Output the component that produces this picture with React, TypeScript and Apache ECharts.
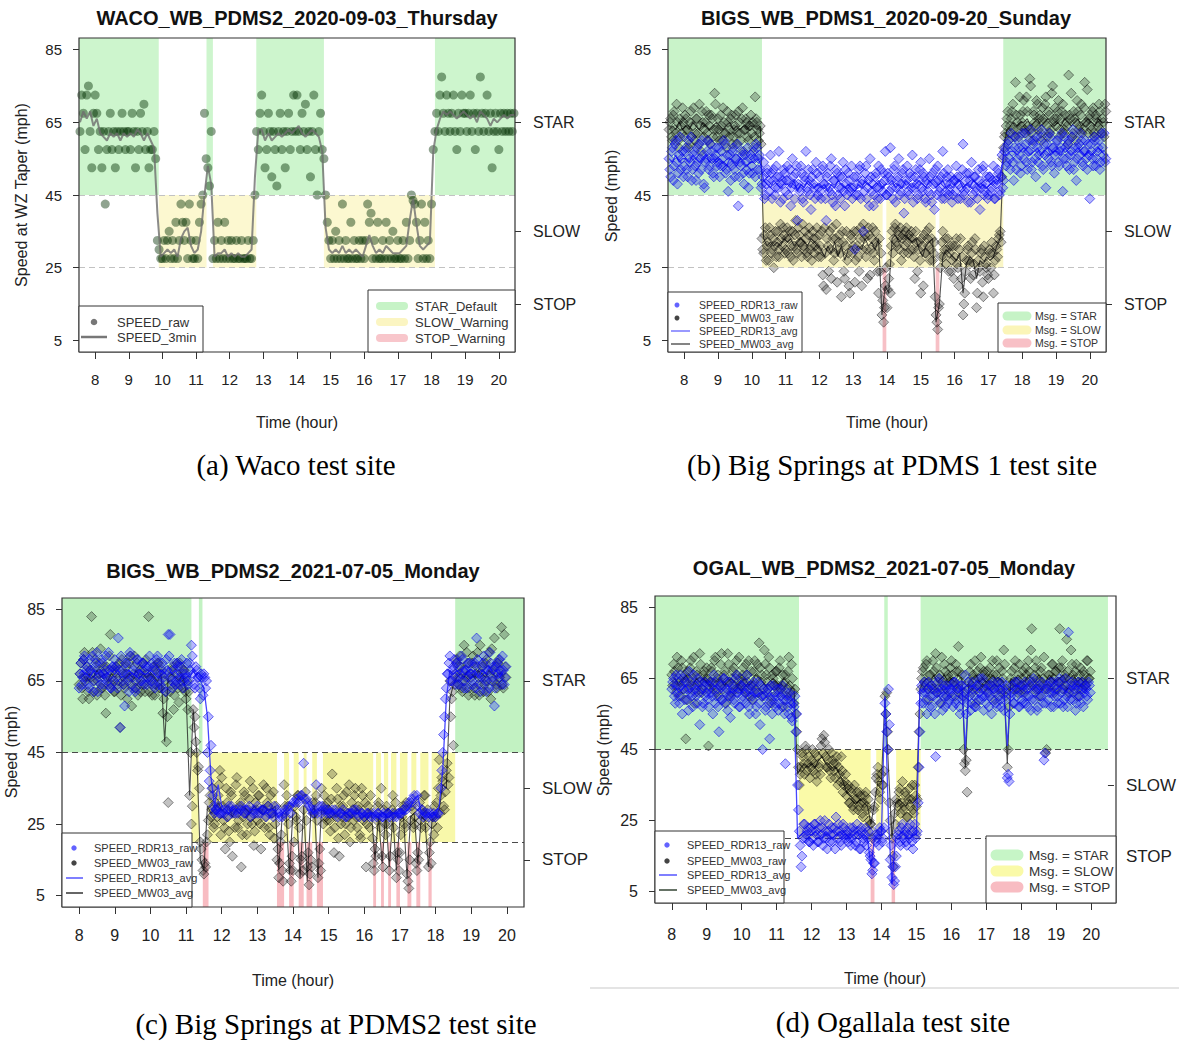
import React, { useEffect, useRef } from "react";
import * as echarts from "echarts";

// ---------- axes / labels ----------
const HOUR_TICKS = [8, 9, 10, 11, 12, 13, 14, 15, 16, 17, 18, 19, 20];
const SPEED_TICKS = [5, 25, 45, 65, 85];
const MSG_TICKS = [15, 35, 65];
const MSG_LABELS: Record<number, string> = { 15: "STOP", 35: "SLOW", 65: "STAR" };
const X_MIN = 7.52;
const X_MAX = 20.48;
const Y_MIN = 1.8;
const Y_MAX = 88.2;
const STAR_LEVEL = 45;

const TITLES = [
  "WACO_WB_PDMS2_2020-09-03_Thursday",
  "BIGS_WB_PDMS1_2020-09-20_Sunday",
  "BIGS_WB_PDMS2_2021-07-05_Monday",
  "OGAL_WB_PDMS2_2021-07-05_Monday",
];
const CAPTIONS = [
  "(a) Waco test site",
  "(b) Big Springs at PDMS 1 test site",
  "(c) Big Springs at PDMS2 test site",
  "(d) Ogallala test site",
];
const Y_TITLES = ["Speed at WZ Taper (mph)", "Speed (mph)", "Speed (mph)", "Speed (mph)"];
const X_TITLE = "Time (hour)";
const LEGEND_A = ["SPEED_raw", "SPEED_3min"];
const LEGEND_A_MSG = ["STAR_Default", "SLOW_Warning", "STOP_Warning"];
const LEGEND_SERIES = ["SPEED_RDR13_raw", "SPEED_MW03_raw", "SPEED_RDR13_avg", "SPEED_MW03_avg"];
const LEGEND_MSG = ["Msg. = STAR", "Msg. = SLOW", "Msg. = STOP"];

// ---------- sampling (hours) ----------
const RAW_STEP = 0.05;
const AVG_STEP = 0.1;
const A_START = 7.55;
const B_START = 7.55;
const B_START2 = 7.575;
const C_START = 8.0;
const C_START2 = 8.025;
const D_START = 8.0;
const D_START2 = 8.025;

// ---------- message periods (hours) ----------
const A_STAR = [[7.52, 9.89], [11.31, 11.5], [12.79, 14.8], [18.1, 20.48]];
const A_SLOW = [[9.89, 11.31], [11.5, 12.79], [14.8, 18.1]];
const A_STOP: number[][] = [];
const A_LOWER = 25;

const B_STAR = [[7.52, 10.3], [17.44, 20.48]];
const B_SLOW = [[10.3, 13.87], [13.98, 15.44], [15.55, 17.44]];
const B_STOP = [[13.87, 13.98], [15.44, 15.55]];
const B_LOWER = 25;

const C_STAR = [[7.52, 11.15], [11.36, 11.46], [18.55, 20.48]];
const C_SLOW = [[11.15, 11.36], [11.63, 13.55], [13.75, 13.89], [14.02, 14.16], [14.3, 14.38], [14.54, 14.67], [14.84, 16.25], [16.33, 16.47], [16.55, 16.67], [16.75, 16.9], [17.0, 17.21], [17.32, 17.46], [17.57, 17.8], [17.89, 18.55]];
const C_STOP = [[11.47, 11.63], [13.55, 13.75], [13.89, 14.02], [14.16, 14.3], [14.38, 14.54], [14.67, 14.84], [16.25, 16.33], [16.47, 16.55], [16.67, 16.75], [16.9, 17.0], [17.21, 17.32], [17.46, 17.57], [17.8, 17.89]];
const C_LOWER = 20;

const D_STAR = [[7.52, 11.64], [14.08, 14.18], [15.12, 20.48]];
const D_SLOW = [[11.64, 13.69], [13.85, 14.06], [14.42, 15.12]];
const D_STOP = [[13.69, 13.8], [14.29, 14.39]];
const D_LOWER = 20;

// ---------- (a) Waco ----------
const aRaw = [
  62.5, 72.5, 67.5, 57.5, 72.5, 75, 62.5, 52.5, 67.5,
  72.5, 67.5, 57.5, 62.5, 52.5, 62.5, 42.5, 57.5, 62.5, 67.5, 57.5, 62.5, 52.5, 62.5, 57.5, 62.5, 67.5, 62.5, 57.5, 62.5,
  62.5, 57.5, 67.5, 62.5, 52.5, 62.5, 57.5, 67.5, 62.5, 70, 57.5, 62.5, 52.5, 57.5, 57.5, 62.5, 55, 32.5, 30, 27.5,
  27.5, 32.5, 27.5, 32.5, 35, 27.5, 32.5, 27.5, 37.5, 27.5, 32.5, 42.5, 37.5, 32.5, 37.5, 27.5, 42.5, 32.5, 27.5, 27.5,
  32.5, 27.5, 37.5, 42.5, 45, 67.5, 55, 52.5, 47.5, 62.5, 27.5, 32.5, 27.5, 37.5, 27.5, 32.5, 27.5, 37.5, 27.5, 32.5,
  27.5, 32.5, 27.5, 27.5, 32.5, 27.5, 27.5, 32.5, 27.5, 27.5, 27.5, 32.5, 27.5, 27.5, 32.5, 45, 62.5, 57.5, 67.5, 72.5,
  62.5, 52.5, 57.5, 67.5, 62.5, 50, 62.5, 57.5, 47.5, 62.5, 67.5, 57.5, 62.5, 52.5, 62.5, 67.5, 57.5, 62.5, 72.5, 62.5,
  72.5, 62.5, 57.5, 67.5, 62.5, 70, 57.5, 62.5, 50, 62.5, 72.5, 57.5, 45, 62.5, 67.5, 57.5, 55, 45, 37.5, 32.5,
  27.5, 32.5, 27.5, 35, 27.5, 32.5, 27.5, 42.5, 27.5, 32.5, 27.5, 27.5, 37.5, 27.5, 32.5, 27.5, 27.5, 32.5, 27.5, 32.5,
  27.5, 32.5, 42.5, 37.5, 40, 27.5, 32.5, 27.5, 37.5, 27.5, 27.5, 32.5, 27.5, 37.5, 27.5, 32.5, 27.5, 35, 27.5, 27.5,
  32.5, 27.5, 27.5, 32.5, 27.5, 37.5, 27.5, 32.5, 45, 43.5, 42.5, 37.5, 27.5, 32.5, 42.5, 27.5, 37.5, 27.5, 32.5, 27.5,
  42.5, 57.5, 62.5, 67.5, 62.5, 72.5, 77.5, 67.5, 62.5, 72.5, 67.5, 62.5, 67.5, 72.5, 62.5, 57.5, 67.5, 62.5, 72.5, 67.5,
  67.5, 62.5, 67.5, 72.5, 62.5, 67.5, 57.5, 67.5, 62.5, 77.5, 67.5, 62.5, 67.5, 72.5, 62.5, 67.5, 52.5, 62.5, 67.5, 62.5,
  57.5, 67.5, 62.5, 67.5, 62.5, 67.5, 62.5, 67.5, 62.5, 67.5, 62.5,
];
const a3min = [
  65, 68, 66, 68, 64,
  66, 62, 61, 60, 62, 61, 62, 60, 62, 61,
  62, 61, 63, 62, 60, 62, 60, 58, 40, 28,
  29, 30, 29, 30, 28, 33, 35, 36, 31, 29,
  30, 35, 45, 53, 48, 28, 29, 29, 30, 28,
  29, 28, 29, 28, 28, 29, 30, 50, 63, 63,
  60, 62, 60, 61, 62, 61, 62, 63, 62, 63,
  64, 62, 61, 62, 63, 62, 61, 57, 36, 30,
  29, 30, 29, 31, 29, 30, 29, 30, 29, 28,
  31, 34, 31, 29, 30, 29, 31, 30, 29, 29,
  29, 30, 31, 38, 44, 37, 31, 30, 31, 32,
  57, 63, 66, 68, 67, 68, 67, 66, 67, 68,
  67, 66, 67, 65, 68, 67, 66, 64, 66, 65,
  66, 67, 66, 67, 67,
];

// ---------- (b) Big Springs PDMS1 ----------
const bRdrRaw = [
  55, 50, 58, 53, 60, 48, 56, 52, 57,
  53, 58, 50, 55, 61, 52, 57, 49, 54, 59, 52, 56, 47, 55, 60, 53, 57, 51, 55, 58,
  54, 50, 57, 53, 59, 52, 46, 56, 53, 58, 50, 55, 42, 54, 57, 51, 56, 52, 47, 55,
  53, 57, 50, 58, 55, 52, 48, 54, 45, 51, 49, 56, 44, 52, 47, 50, 57, 43, 49, 52,
  46, 53, 49, 42, 55, 48, 51, 38, 47, 53, 44, 50, 57, 46, 49, 41, 52, 47, 54, 45,
  50, 44, 53, 48, 38, 51, 46, 55, 43, 49, 52, 45, 50, 47, 54, 42, 48, 51, 46, 53,
  47, 30, 50, 45, 53, 48, 35, 51, 44, 49, 55, 46, 42, 50, 47, 53, 44, 48, 51, 57,
  45, 50, 58, 47, 52, 43, 49, 55, 46, 51, 40, 48, 53, 45, 50, 56, 47, 52, 44, 49,
  54, 46, 50, 43, 48, 55, 45, 51, 41, 49, 53, 46, 50, 57, 44, 48, 52, 46, 50, 45,
  49, 53, 44, 50, 47, 59, 46, 51, 43, 49, 54, 45, 50, 47, 52, 41, 48, 53, 46, 50,
  45, 50, 47, 53, 44, 49, 51, 46, 56, 49, 58, 54, 60, 52, 57, 49, 61, 55, 58, 51,
  62, 55, 59, 52, 57, 63, 54, 60, 50, 58, 56, 61, 53, 59, 47, 57, 62, 54, 58, 51,
  57, 60, 53, 58, 46, 61, 55, 59, 52, 57, 63, 54, 49, 58, 56, 60, 53, 57, 55, 59,
  44, 57, 53, 60, 55, 58, 52, 62, 56, 54, 58,
];
const bRdrRaw2 = [
  52, 57, 49, 59, 54, 51, 61, 55, 50,
  57, 52, 60, 54, 49, 56, 53, 58, 51, 55, 60, 48, 54, 57, 52, 59, 55, 50, 56, 53,
  58, 53, 55, 60, 51, 56, 54, 49, 57, 52, 55, 59, 50, 53, 56, 48, 54, 58, 51, 56,
  51, 55, 59, 52, 56, 47, 50, 44, 48, 52, 46, 51, 49, 45, 53, 47, 50, 48, 44, 51,
  49, 45, 52, 47, 50, 44, 53, 48, 46, 51, 43, 49, 47, 52, 45, 50, 48, 44, 51, 47,
  46, 52, 48, 44, 50, 47, 53, 45, 49, 42, 51, 47, 44, 50, 46, 52, 45, 49, 47, 44,
  50, 45, 48, 52, 44, 49, 46, 53, 47, 42, 50, 48, 45, 51, 44, 47, 52, 46, 49, 45,
  51, 46, 49, 44, 53, 47, 50, 45, 48, 52, 44, 49, 46, 51, 47, 43, 50, 48, 45, 52,
  47, 51, 44, 49, 46, 50, 43, 48, 52, 45, 49, 47, 44, 51, 46, 50, 45, 48, 43, 49,
  46, 50, 48, 44, 52, 45, 49, 47, 51, 43, 48, 50, 46, 44, 49, 47, 52, 45, 48, 44,
  50, 46, 49, 44, 48, 52, 45, 50, 47, 57, 53, 59, 55, 62, 54, 58, 52, 60, 56, 53,
  58, 62, 54, 57, 60, 52, 59, 55, 61, 54, 57, 63, 52, 56, 59, 55, 61, 53, 58, 56,
  60, 54, 57, 62, 55, 58, 53, 60, 56, 61, 52, 58, 55, 59, 62, 54, 57, 60, 52, 56,
  59, 55, 61, 53, 57, 60, 54, 58, 62, 55, 57,
];
const bMwRaw = [
  63, 66, 60, 68, 62, 65, 58, 64, 69,
  61, 66, 63, 59, 68, 64, 60, 66, 62, 70, 57, 65, 63, 68, 60, 64, 67, 61, 73, 63,
  66, 60, 64, 69, 62, 58, 65, 63, 67, 61, 64, 59, 68, 62, 66, 57, 63, 65, 60, 64,
  62, 58, 72, 65, 60, 64, 33, 29, 36, 31, 27, 34, 30, 25, 35, 32, 28, 37, 31, 34,
  30, 36, 33, 28, 35, 31, 38, 29, 34, 32, 37, 30, 33, 28, 36, 31, 35, 29, 33, 30,
  34, 28, 23, 36, 19, 31, 35, 22, 33, 29, 37, 30, 34, 17, 32, 22, 35, 29, 18, 33,
  31, 21, 35, 28, 33, 20, 37, 34, 30, 36, 23, 33, 29, 35, 31, 18, 24, 12, 10, 20,
  14, 22, 18, 35, 33, 37, 31, 34, 36, 33, 29, 35, 32, 34, 30, 33, 28, 35, 24, 32,
  18, 31, 34, 29, 33, 36, 30, 27, 32, 12, 8, 15, 28, 35, 30, 26, 33, 29, 24, 31,
  28, 33, 25, 30, 22, 12, 18, 27, 31, 26, 29, 23, 33, 14, 27, 24, 30, 17, 28, 25,
  22, 29, 32, 18, 27, 30, 33, 35, 50, 58, 62, 66, 60, 64, 68, 63, 76, 65, 61, 67,
  65, 71, 62, 68, 63, 75, 60, 67, 64, 70, 66, 62, 69, 65, 72, 61, 67, 63, 75, 66,
  64, 68, 61, 66, 70, 63, 65, 59, 67, 73, 62, 66, 60, 68, 64, 70, 63, 76, 65, 62,
  67, 63, 69, 61, 66, 64, 68, 62, 65, 70, 63,
];
const bMwRaw2 = [
  65, 61, 67, 63, 70, 60, 66, 62, 65,
  67, 63, 58, 65, 61, 69, 62, 66, 59, 64, 68, 61, 65, 62, 67, 59, 66, 63, 70, 61,
  63, 67, 60, 65, 62, 68, 61, 66, 59, 63, 67, 62, 65, 60, 69, 63, 66, 61, 64, 67,
  65, 61, 66, 63, 62, 59, 30, 34, 27, 32, 36, 29, 33, 31, 28, 35, 30, 33, 36, 29,
  33, 29, 35, 31, 27, 34, 30, 36, 32, 28, 31, 35, 29, 34, 30, 27, 33, 31, 36, 28,
  31, 35, 20, 29, 33, 24, 30, 36, 27, 33, 21, 32, 29, 35, 24, 31, 27, 20, 34, 29,
  35, 27, 31, 24, 36, 30, 33, 28, 22, 34, 30, 36, 27, 32, 24, 33, 29, 16, 14, 25,
  19, 26, 31, 29, 36, 32, 35, 30, 27, 34, 31, 36, 29, 33, 35, 30, 22, 32, 30, 27,
  33, 20, 29, 35, 31, 27, 33, 29, 17, 10, 14, 25, 32, 28, 33, 30, 24, 31, 27, 22,
  31, 26, 20, 33, 28, 15, 24, 30, 27, 22, 32, 26, 30, 18, 25, 29, 21, 31, 26, 23,
  30, 25, 29, 23, 31, 28, 34, 32, 55, 61, 64, 68, 62, 66, 70, 61, 67, 63, 72, 64,
  68, 63, 72, 64, 77, 62, 68, 65, 71, 63, 67, 60, 66, 70, 64, 68, 62, 73, 65, 69,
  66, 71, 63, 68, 62, 67, 64, 78, 66, 61, 68, 65, 71, 63, 67, 62, 69, 65, 74, 66,
  64, 68, 62, 67, 65, 70, 63, 66, 61, 68, 64,
];
const bRdrAvg = [
  55, 54, 56, 54, 55,
  55, 54, 56, 55, 54, 55, 56, 54, 55, 54,
  55, 54, 53, 55, 54, 53, 55, 54, 53, 54,
  54, 55, 54, 49, 48, 47, 49, 48, 47, 48,
  48, 47, 49, 46, 48, 47, 49, 48, 47, 48,
  47, 48, 46, 48, 47, 49, 48, 47, 48, 47,
  46, 48, 47, 49, 48, 47, 48, 49, 47, 48,
  48, 49, 47, 48, 47, 49, 48, 47, 48, 49,
  48, 47, 49, 48, 47, 48, 49, 47, 48, 47,
  48, 49, 47, 48, 47, 49, 48, 47, 48, 47,
  48, 49, 48, 50, 56, 56, 57, 57, 56, 57,
  58, 57, 56, 57, 58, 56, 57, 58, 56, 57,
  57, 56, 58, 57, 56, 57, 58, 57, 56, 57,
  56, 57, 58, 57, 56,
];
const bMwAvg = [
  63, 64, 63, 65, 63,
  64, 63, 65, 64, 63, 65, 64, 63, 64, 65,
  64, 63, 64, 65, 63, 64, 63, 64, 63, 64,
  64, 63, 64, 33, 31, 32, 31, 32, 31, 33,
  32, 33, 31, 32, 33, 32, 31, 33, 32, 31,
  30, 28, 31, 29, 32, 28, 31, 27, 30, 31,
  29, 31, 30, 33, 31, 32, 30, 33, 12, 20,
  18, 33, 34, 32, 33, 34, 33, 32, 33, 30,
  28, 31, 32, 33, 10, 15, 28, 30, 29, 28,
  27, 29, 18, 26, 28, 27, 22, 27, 26, 28,
  27, 28, 31, 33, 58, 63, 64, 65, 64, 65,
  65, 66, 64, 65, 66, 64, 65, 66, 65, 64,
  65, 64, 66, 65, 64, 65, 66, 64, 65, 66,
  65, 64, 66, 65, 65,
];

// ---------- (c) Big Springs PDMS2 ----------
const cRdrRaw = [
  63, 70, 66, 72, 68, 64, 71, 67, 62, 69, 73, 66, 64, 70, 67, 72, 65, 68, 63, 69,
  71, 66, 77, 52, 68, 64, 70, 67, 62, 72, 66, 69, 63, 71, 67, 65, 70, 68, 64, 69,
  66, 70, 64, 68, 72, 65, 69, 63, 67, 71, 78, 78, 65, 68, 64, 70, 66, 69, 67, 65,
  66, 64, 70, 75, 67, 63, 68, 66, 60, 66, 67, 63, 45, 37, 47, 33, 28, 29, 30, 28,
  28, 29, null, 27, 30, null, 28, null, 29, 28, null, 30, null, 28, 29, null, 27, null, 29, 28,
  30, null, 28, 29, null, 27, 30, null, 28, 27, null, 29, 28, null, 27, 28, null, 29, 30, null,
  31, null, 32, 31, null, 33, 42, null, 31, 30, null, 28, 29, 36, null, 30, 28, null, 29, 28,
  null, 28, 29, null, 28, 27, null, 28, 29, null, 27, 28, null, 28, 29, null, 28, 27, null, 28,
  27, null, 28, 27, null, 28, null, 27, 28, null, 27, 28, null, 28, 27, null, 28, null, 27, 28,
  null, 28, 29, null, 30, 31, null, 32, 33, null, 30, 28, null, 27, 28, null, 27, 28, null, 28,
  27, 28, null, 35, 45, 55, 63, 67, 72, 65, 69, 66, 70, 64, 67, 71, 63, 68, 66, 70,
  67, 64, 70, 77, 66, 62, 69, 72, 65, 68, 63, 70, 66, 58, 69, 67, 71, 64, 68, 66,
];
const cRdrRaw2 = [
  67, 64, 71, 66, 69, 63, 68, 72, 65, 70, 62, 67, 71, 64, 68, 66, 73, 63, 69, 65,
  69, 63, 68, 72, 65, 58, 70, 66, 73, 64, 68, 62, 71, 67, 65, 70, 64, 69, 66, 72,
  65, 69, 63, 71, 67, 64, 70, 66, 62, 68, 72, 66, 63, 70, 65, 69, 64, 71, 63, 67,
  70, 65, 68, 72, 64, 69, 66, 63, 67, 61, 66, 65, 55, 40, 35, 30, 29, null, 28, null,
  null, 28, null, 29, null, 30, null, 28, null, null, 29, null, 28, null, null, 30, null, 28, null, null,
  28, null, null, 29, null, null, 28, null, null, 30, null, null, 27, null, null, 29, null, null, 28, null,
  null, 31, null, null, 33, null, null, 32, null, null, 29, null, null, 28, null, null, 30, null, null, 29,
  28, null, null, 29, null, null, 28, null, null, 27, null, null, 28, null, null, 29, null, null, 28, null,
  null, 28, null, null, 27, null, null, 28, null, null, 27, null, null, 28, null, null, 27, null, null, 28,
  28, null, null, 29, null, null, 31, null, null, 33, null, null, 29, null, null, 28, null, null, 27, null,
  null, 28, null, 40, 50, 60, 67, 70, 65, 68, 71, 64, 69, 66, 72, 65, 68, 63, 70, 67,
  65, 69, 63, 71, 67, 64, 70, 66, 62, 68, 73, 65, 69, 63, 70, 66, 68, 72, 64, 69,
];
const cMwRaw = [
  64, 70, 60, 73, 66, 62, 68, 83, 65, 71, 61, 67, 74, 63, 69, 56, 66, 72, 64, 68,
  62, 69, 65, 52, 71, 64, 67, 60, 70, 66, 63, 72, 65, 61, 68, 64, 70, 62, 67, 83,
  66, 61, 69, 64, 70, 63, 67, 56, 65, 48, 31, 62, 68, 57, 64, 70, 59, 66, 63, 68,
  60, 57, 33, 25, 57, 55, 45, 41, 20, 15, 11, 13, 22, 31, 27, 35, 25, 29, 33, 40,
  38, 26, 18, 31, 23, 34, 16, 28, 36, 24, 30, 13, 27, 33, 22, 29, 37, 25, 19, 31,
  26, 33, 18, 29, 24, 35, 30, 22, 28, 34, 25, 15, 10, 20, 12, 36, 27, 30, 14, 9,
  12, 30, 26, 33, 11, 16, 29, 34, 13, 8, 15, 31, 28, 33, 10, 18, 35, 25, 30, 26,
  29, 23, 39, 17, 27, 32, 16, 25, 30, 22, 34, 27, 20, 31, 26, 35, 24, 29, 21, 33,
  27, 13, 30, 24, 28, 14, 18, 26, 31, 24, 16, 29, 22, 25, 12, 27, 33, 28, 10, 15,
  17, 27, 30, 24, 11, 7, 26, 29, 25, 14, 17, 31, 24, 28, 33, 27, 13, 20, 25, 22,
  27, 24, 43, 33, 37, 29, 40, 36, 65, 60, 47, 67, 71, 64, 69, 62, 75, 66, 70, 63,
  66, 72, 61, 69, 64, 75, 67, 62, 70, 65, 73, 60, 68, 77, 64, 70, 66, 80, 63, 69,
];
const cMwRaw2 = [
  67, 63, 71, 65, 69, 60, 66, 73, 62, 68, 65, 70, 63, 67, 61, 69, 64, 78, 66, 62,
  68, 64, 70, 61, 67, 63, 69, 65, 72, 58, 67, 63, 70, 66, 62, 68, 64, 71, 66, 62,
  64, 68, 61, 66, 70, 63, 68, 60, 62, 55, 66, 64, 69, 61, 67, 63, 70, 65, 68, 62,
  65, 62, 45, 30, 52, 48, 40, 35, 18, 12, 14, 20, 26, 33, 29, 24, 31, 27, 36, 22,
  30, 24, 35, 27, 20, 33, 29, 24, 38, 26, 31, 22, 34, 28, 25, 32, 27, 35, 23, 29,
  33, 25, 29, 36, 27, 31, 24, 33, 28, 21, 30, 18, 14, 22, 9, 30, 33, 25, 12, 16,
  20, 27, 33, 24, 15, 12, 32, 26, 17, 11, 13, 28, 31, 26, 14, 12, 29, 33, 27, 31,
  26, 32, 28, 24, 35, 21, 30, 27, 33, 25, 28, 36, 24, 29, 33, 27, 30, 22, 35, 26,
  31, 25, 28, 33, 21, 12, 16, 30, 27, 35, 13, 25, 30, 28, 16, 29, 24, 31, 17, 12,
  22, 29, 25, 31, 9, 15, 30, 24, 27, 12, 15, 26, 29, 33, 24, 29, 17, 14, 27, 30,
  31, 35, 28, 38, 30, 34, 42, 38, 55, 62, 64, 70, 66, 72, 63, 68, 65, 73, 61, 67,
  70, 63, 67, 73, 61, 66, 69, 64, 71, 62, 67, 74, 65, 69, 63, 71, 67, 64, 78, 66,
];
const cRdrAvg = [
  67, 68, 67, 66, 68, 67, 68, 66, 67, 68,
  67, 68, 66, 67, 68, 67, 66, 68, 67, 67,
  68, 67, 66, 68, 67, 69, 67, 68, 66, 67,
  67, 66, 68, 66, 65, 63, 55, 38, 30, 36,
  30, 29, 28, 30, 29, 29, 30, 30, 29, 29,
  29, 30, 29, 28, 29, 29, 27, 28, 29, 31,
  30, 32, 33, 32, 31, 29, 28, 29, 30, 29,
  28, 29, 28, 29, 28, 28, 29, 28, 28, 28,
  27, 28, 28, 27, 28, 27, 28, 27, 28, 28,
  28, 28, 29, 30, 32, 33, 28, 27, 28, 27,
  28, 30, 40, 60, 68, 67, 68, 67, 69, 68,
  67, 68, 66, 68, 67, 69, 67, 68, 66, 68,
];
const cMwAvg = [
  66, 67, 65, 67, 66, 68, 66, 67, 65, 67,
  66, 67, 65, 66, 67, 66, 68, 66, 67, 66,
  67, 66, 65, 67, 48, 66, 67, 66, 65, 67,
  62, 33, 57, 45, 15, 12, 30, 28, 29, 31,
  29, 28, 30, 27, 29, 28, 30, 29, 28, 30,
  29, 28, 30, 29, 29, 30, 12, 28, 29, 11,
  29, 28, 10, 30, 9, 28, 30, 10, 29, 28,
  28, 29, 27, 28, 29, 28, 27, 28, 29, 28,
  27, 28, 28, 15, 27, 14, 28, 13, 27, 12,
  26, 27, 10, 27, 28, 14, 27, 26, 13, 26,
  27, 29, 36, 35, 60, 64, 66, 67, 66, 68,
  67, 66, 68, 67, 66, 68, 67, 66, 67, 68,
];

// ---------- (d) Ogallala ----------
const dRdrRaw = [
  62, 65, 58, 63, 60, 66, 55, 62, 64, 59, 67, 61, 57, 63, 60, 65, 52, 62, 58, 64,
  61, 57, 64, 60, 66, 58, 62, 50, 63, 59, 65, 61, 56, 64, 60, 62, 58, 66, 61, 57,
  63, 59, 61, 66, 57, 62, 60, 64, 55, 61, 58, 63, 45, 60, 57, 62, 48, 59, 63, 58,
  60, 56, 62, 57, 59, 41, 61, 55, 58, 53, 57, 50, 35, 22, 12, 20, 24, 21, 23, 19,
  22, 18, 24, 21, 19, 25, 23, 20, 22, 17, 24, 21, 19, 23, 26, 20, 22, 18, 24, 21,
  21, 19, 23, 20, 22, 18, 24, 21, 17, 22, 19, 23, 20, 16, 14, 11, 13, 19, 21, 23,
  22, 20, 58, 50, 62, 14, 9, 7, 12, 20, 22, 18, 24, 21, 19, 23, 20, 22, 17, 24,
  21, 30, 50, 63, 58, 61, 55, 64, 60, 57, 62, 43, 59, 65, 61, 56, 63, 60, 58, 62,
  62, 57, 64, 59, 61, 55, 63, 60, 66, 58, 62, 56, 64, 60, 57, 63, 61, 59, 65, 60,
  58, 63, 60, 55, 64, 61, 57, 62, 59, 64, 56, 61, 37, 36, 60, 63, 58, 62, 64, 57,
  61, 58, 64, 60, 57, 63, 59, 65, 61, 56, 62, 60, 64, 42, 58, 63, 61, 57, 64, 60,
  62, 58, 65, 61, 57, 63, 60, 78, 59, 64, 61, 56, 63, 60, 58, 64, 61, 62, 59, 63,
];
const dRdrRaw2 = [
  64, 60, 66, 61, 58, 63, 65, 59, 62, 56, 64, 60, 66, 62, 58, 61, 64, 57, 63, 60,
  59, 63, 61, 55, 64, 60, 57, 63, 59, 65, 58, 62, 60, 54, 63, 59, 65, 61, 57, 63,
  60, 64, 58, 62, 55, 63, 59, 61, 57, 64, 52, 60, 62, 56, 61, 58, 63, 55, 60, 57,
  62, 58, 60, 63, 55, 59, 57, 61, 54, 58, 60, 55, 28, 18, 15, 24, 20, 22, 19, 23,
  20, 24, 22, 19, 23, 21, 18, 25, 20, 22, 19, 23, 21, 17, 22, 24, 19, 21, 23, 20,
  22, 20, 18, 23, 21, 19, 22, 17, 23, 20, 21, 18, 22, 15, 10, 13, 21, 20, 18, 22,
  19, 23, 55, 45, 52, 18, 12, 8, 15, 21, 19, 23, 20, 22, 18, 21, 24, 19, 22, 20,
  22, 40, 58, 61, 64, 59, 62, 57, 63, 60, 55, 61, 64, 58, 62, 60, 57, 63, 59, 61,
  60, 64, 58, 62, 57, 63, 59, 61, 55, 64, 60, 58, 62, 57, 63, 59, 65, 60, 56, 62,
  61, 57, 63, 59, 62, 58, 64, 60, 57, 62, 59, 63, 38, 55, 61, 58, 64, 60, 57, 62,
  59, 63, 58, 62, 60, 56, 64, 59, 62, 57, 63, 60, 58, 44, 62, 59, 64, 61, 57, 63,
  60, 64, 58, 62, 59, 65, 57, 61, 63, 59, 62, 58, 64, 60, 62, 57, 63, 60, 64, 61,
];
const dMwRaw = [
  66, 69, 63, 71, 65, 60, 68, 64, 48, 67, 62, 70, 65, 58, 67, 63, 72, 61, 66, 64,
  68, 46, 64, 67, 62, 71, 65, 60, 69, 63, 66, 58, 72, 64, 61, 67, 63, 70, 62, 65,
  64, 68, 61, 66, 70, 63, 59, 67, 62, 69, 75, 64, 60, 73, 66, 62, 68, 58, 65, 63,
  67, 61, 70, 63, 57, 66, 62, 71, 60, 65, 58, 55, 45, 35, 40, 43, 38, 45, 41, 37,
  42, 39, 44, 36, 41, 38, 48, 49, 43, 40, 45, 37, 42, 39, 41, 35, 38, 43, 33, 36,
  32, 35, 30, 34, 28, 31, 33, 29, 32, 27, 30, 33, 28, 25, 24, 20, 29, 37, 40, 33,
  38, 35, 60, 61, 45, 25, 20, 12, 24, 30, 33, 27, 36, 29, 32, 26, 34, 31, 28, 35,
  29, 40, 55, 65, 68, 63, 70, 59, 66, 62, 67, 72, 61, 65, 58, 64, 69, 62, 66, 64,
  70, 64, 60, 67, 74, 62, 66, 45, 39, 33, 64, 69, 61, 65, 58, 67, 63, 71, 62, 66,
  65, 61, 68, 63, 66, 59, 70, 64, 62, 67, 73, 60, 40, 57, 65, 62, 68, 64, 61, 69,
  63, 67, 61, 66, 70, 64, 79, 62, 68, 65, 60, 67, 63, 71, 44, 62, 66, 64, 69, 61,
  67, 64, 79, 68, 62, 66, 76, 61, 65, 69, 63, 67, 60, 64, 68, 62, 66, 63, 70, 65,
];
const dMwRaw2 = [
  63, 67, 61, 68, 64, 70, 62, 66, 59, 65, 68, 63, 71, 61, 66, 64, 69, 62, 67, 65,
  65, 62, 68, 63, 70, 61, 66, 64, 72, 62, 67, 64, 69, 60, 65, 68, 62, 66, 71, 63,
  66, 62, 69, 64, 60, 67, 63, 70, 65, 61, 68, 66, 62, 69, 64, 71, 60, 66, 63, 67,
  63, 68, 62, 66, 64, 60, 67, 63, 69, 61, 62, 50, 40, 38, 44, 41, 46, 39, 43, 40,
  45, 41, 38, 43, 40, 46, 44, 47, 40, 42, 39, 44, 41, 37, 43, 40, 36, 39, 35, 38,
  34, 30, 33, 29, 35, 31, 28, 33, 30, 26, 32, 29, 31, 24, 22, 28, 33, 38, 36, 31,
  35, 39, 55, 50, 30, 22, 15, 27, 31, 29, 34, 30, 28, 33, 26, 31, 29, 35, 27, 32,
  31, 50, 62, 67, 64, 69, 62, 66, 63, 70, 64, 68, 62, 66, 71, 63, 67, 60, 65, 68,
  66, 63, 69, 62, 67, 64, 60, 41, 42, 62, 67, 63, 66, 70, 62, 65, 68, 64, 67, 63,
  67, 63, 65, 70, 62, 66, 64, 68, 61, 65, 69, 62, 45, 63, 67, 64, 70, 62, 66, 63,
  65, 62, 68, 64, 67, 73, 63, 66, 70, 62, 64, 68, 65, 62, 45, 66, 63, 69, 65, 67,
  62, 68, 64, 70, 65, 63, 67, 62, 73, 66, 64, 69, 62, 66, 64, 67, 63, 70, 65, 67,
];
const dRdrAvg = [
  62, 63, 61, 62, 63, 61, 62, 63, 62, 61,
  62, 61, 63, 62, 61, 62, 63, 61, 62, 61,
  61, 62, 60, 61, 60, 61, 59, 60, 61, 60,
  60, 61, 60, 59, 60, 58, 20, 21, 22, 21,
  21, 22, 21, 20, 22, 21, 20, 21, 22, 21,
  21, 20, 21, 22, 20, 21, 20, 12, 20, 21,
  21, 60, 25, 7, 20, 21, 22, 21, 20, 21,
  21, 62, 61, 62, 63, 62, 61, 62, 63, 62,
  63, 62, 61, 63, 45, 62, 63, 62, 61, 62,
  63, 62, 61, 62, 63, 62, 46, 61, 62, 63,
  62, 63, 61, 62, 63, 62, 61, 63, 62, 61,
  62, 63, 62, 61, 63, 62, 63, 62, 61, 62,
];
const dMwAvg = [
  64, 65, 63, 64, 66, 64, 63, 65, 64, 65,
  64, 63, 65, 64, 65, 63, 64, 65, 64, 63,
  64, 65, 63, 64, 66, 65, 64, 63, 64, 65,
  64, 63, 65, 64, 63, 62, 38, 40, 41, 40,
  41, 40, 42, 43, 41, 40, 39, 40, 38, 36,
  33, 32, 31, 30, 31, 30, 29, 24, 30, 36,
  36, 60, 40, 20, 30, 31, 30, 29, 31, 30,
  31, 62, 64, 65, 64, 66, 64, 65, 66, 64,
  65, 64, 66, 65, 40, 64, 65, 66, 64, 65,
  64, 65, 66, 64, 65, 64, 41, 65, 64, 66,
  65, 64, 66, 65, 64, 66, 65, 64, 66, 65,
  64, 65, 66, 64, 65, 66, 64, 65, 64, 65,
];

// ---------- panels ----------
type Raw = { start: number; vals: (number | null)[] };
const SPECS: {
  black: Raw[]; blue: Raw[]; avgStart: number; blackAvg: number[]; blueAvg: number[] | null;
  star: number[][]; slow: number[][]; stop: number[][]; lower: number;
}[] = [
  { black: [{ start: A_START, vals: aRaw }], blue: [], avgStart: A_START, blackAvg: a3min, blueAvg: null, star: A_STAR, slow: A_SLOW, stop: A_STOP, lower: A_LOWER },
  { black: [{ start: B_START, vals: bMwRaw }, { start: B_START2, vals: bMwRaw2 }], blue: [{ start: B_START, vals: bRdrRaw }, { start: B_START2, vals: bRdrRaw2 }], avgStart: B_START, blackAvg: bMwAvg, blueAvg: bRdrAvg, star: B_STAR, slow: B_SLOW, stop: B_STOP, lower: B_LOWER },
  { black: [{ start: C_START, vals: cMwRaw }, { start: C_START2, vals: cMwRaw2 }], blue: [{ start: C_START, vals: cRdrRaw }, { start: C_START2, vals: cRdrRaw2 }], avgStart: C_START, blackAvg: cMwAvg, blueAvg: cRdrAvg, star: C_STAR, slow: C_SLOW, stop: C_STOP, lower: C_LOWER },
  { black: [{ start: D_START, vals: dMwRaw }, { start: D_START2, vals: dMwRaw2 }], blue: [{ start: D_START, vals: dRdrRaw }, { start: D_START2, vals: dRdrRaw2 }], avgStart: D_START, blackAvg: dMwAvg, blueAvg: dRdrAvg, star: D_STAR, slow: D_SLOW, stop: D_STOP, lower: D_LOWER },
];

const SANS = "'Liberation Sans', Arial, Helvetica, sans-serif";
const SERIF = "'Liberation Serif', 'Times New Roman', serif";

const STYLES = [
  {
    grid: { left: 79, top: 38, width: 436, height: 314 }, tickFont: 15, msgFont: 16, xMargin: 20,
    band: { star: "#cdf5cd", slow: "#fcf8d0", stop: "#f8c6cb" }, dash: "#c2c2c2",
    title: [297, 18], yTitle: [21, 195], xTitle: [297, 422], caption: [296, 465],
  },
  {
    grid: { left: 668, top: 38, width: 438, height: 314 }, tickFont: 15, msgFont: 16, xMargin: 20,
    band: { star: "#c9f3c9", slow: "#faf6c6", stop: "#f7c0c6" }, dash: "#c2c2c2",
    title: [886, 18], yTitle: [611, 196], xTitle: [887, 422], caption: [892, 465],
  },
  {
    grid: { left: 62, top: 598, width: 462, height: 309 }, tickFont: 16, msgFont: 17, xMargin: 20,
    band: { star: "#c2f2c2", slow: "#f8f8aa", stop: "#f8bcc2" }, dash: "#4a4a4a",
    title: [293, 571], yTitle: [11, 752], xTitle: [293, 980], caption: [336, 1024],
  },
  {
    grid: { left: 655, top: 596, width: 461, height: 307 }, tickFont: 16, msgFont: 17, xMargin: 23,
    band: { star: "#c6f5c6", slow: "#fafaa8", stop: "#f8bcc2" }, dash: "#4a4a4a",
    title: [884, 568], yTitle: [603, 750], xTitle: [885, 978], caption: [893, 1022],
  },
];

function pts(t0: number, step: number, vals: (number | null)[]) {
  const out: number[][] = [];
  vals.forEach((v, i) => {
    if (v !== null && v !== undefined) out.push([Math.round((t0 + i * step) * 1000) / 1000, v]);
  });
  return out;
}
function rawPts(list: Raw[]) {
  const out: number[][] = [];
  list.forEach((r) => out.push(...pts(r.start, RAW_STEP, r.vals)));
  return out;
}

function txt(x: number, y: number, s: string, size: number, o: any = {}) {
  return {
    type: "text", x, y, z: 120, silent: true, rotation: o.rotation || 0,
    scaleX: o.scaleX || 1,
    style: {
      text: s, fontSize: size, fontFamily: o.family || SANS, fontWeight: o.weight || "normal",
      fill: o.fill || "#222", align: o.align || "left", verticalAlign: "middle",
      textAlign: o.align || "left", textVerticalAlign: "middle",
    },
  };
}
function rect(x1: number, y1: number, x2: number, y2: number, fill: string, z = 110) {
  return { type: "rect", z, silent: true, shape: { x: x1, y: y1, width: x2 - x1, height: y2 - y1 }, style: { fill, stroke: "#333", lineWidth: 1 } };
}
function seg(x1: number, x2: number, y: number, stroke: string, w: number, cap = "butt") {
  return { type: "line", z: 120, silent: true, shape: { x1, y1: y, x2, y2: y }, style: { stroke, lineWidth: w, lineCap: cap } };
}
function dot(cx: number, cy: number, r: number, fill: string) {
  return { type: "circle", z: 120, silent: true, shape: { cx, cy, r }, style: { fill } };
}

function legends(): any[] {
  const g: any[] = [];
  // (a)
  g.push(rect(79, 306, 203, 352, "#fff"));
  g.push(dot(94, 322, 3.3, "#777"));
  g.push(seg(81, 107, 337, "#777", 2.5));
  g.push(txt(117, 322, LEGEND_A[0], 13, { fill: "#333" }));
  g.push(txt(117, 337, LEGEND_A[1], 13, { fill: "#333" }));
  g.push(rect(368, 290, 515, 352, "#fff"));
  const aSw = ["#c6f3c6", "#fbf5c2", "#f8c6cb"];
  [306, 322, 338].forEach((y, k) => {
    g.push(seg(380, 404, y, aSw[k], 8, "round"));
    g.push(txt(415, y, LEGEND_A_MSG[k], 13, { fill: "#333" }));
  });
  // (b)
  g.push(rect(668, 292, 802, 352, "#fff"));
  g.push(dot(677, 305, 2.5, "#6262ff"));
  g.push(dot(677, 318, 2.5, "#444"));
  g.push(seg(671, 690, 331, "#5555ff", 1.2));
  g.push(seg(671, 690, 344, "#333", 1.2));
  [305, 318, 331, 344].forEach((y, k) => g.push(txt(699, y, LEGEND_SERIES[k], 10.5, { fill: "#333" })));
  g.push(rect(998, 303, 1106, 352, "#fff"));
  const bSw = ["#c6f3c6", "#fbf5b8", "#f8c0c6"];
  [316, 330, 343].forEach((y, k) => {
    g.push(seg(1007, 1027, y, bSw[k], 9, "round"));
    g.push(txt(1035, y, LEGEND_MSG[k], 10.5, { fill: "#333" }));
  });
  // (c)
  g.push(rect(62, 833, 192, 907, "#fff"));
  g.push(dot(74, 848, 2.7, "#6262ff"));
  g.push(dot(74, 863, 2.7, "#444"));
  g.push(seg(66, 83, 878, "#5555ff", 1.5));
  g.push(seg(66, 83, 893, "#333", 1.5));
  [848, 863, 878, 893].forEach((y, k) => g.push(txt(94, y, LEGEND_SERIES[k], 11, { fill: "#333" })));
  // (d)
  g.push(rect(655, 831, 784, 903, "#fff"));
  g.push(dot(667, 845, 2.7, "#6262ff"));
  g.push(dot(667, 861, 2.7, "#444"));
  g.push(seg(659, 677, 875, "#5555ff", 1.5));
  g.push(seg(659, 677, 890, "#334433", 1.5));
  [845, 861, 875, 890].forEach((y, k) => g.push(txt(687, y, LEGEND_SERIES[k], 11, { fill: "#333" })));
  g.push(rect(986, 836, 1116, 903, "#fff"));
  const dSw = ["#c6f5c6", "#fafaa8", "#f8bcc2"];
  [855, 871, 887].forEach((y, k) => {
    g.push(seg(996, 1018, y, dSw[k], 11, "round"));
    g.push(txt(1029, y, LEGEND_MSG[k], 13.5, { fill: "#333" }));
  });
  return g;
}

function buildOption() {
  const grid: any[] = [];
  const xAxis: any[] = [];
  const yAxis: any[] = [];
  const series: any[] = [];
  const graphic: any[] = [];

  SPECS.forEach((sp, i) => {
    const st = STYLES[i];
    grid.push({ ...st.grid, show: false, containLabel: false });
    xAxis.push({
      type: "value", gridIndex: i, min: X_MIN, max: X_MAX, position: "bottom",
      axisLine: { show: false }, splitLine: { show: false },
      axisTick: { show: true, customValues: HOUR_TICKS, length: 7, lineStyle: { color: "#333", width: 1 } },
      axisLabel: { customValues: HOUR_TICKS, fontSize: st.tickFont, color: "#222", margin: st.xMargin, fontFamily: SANS },
    });
    yAxis.push({
      type: "value", gridIndex: i, min: Y_MIN, max: Y_MAX, position: "left",
      axisLine: { show: false }, splitLine: { show: false },
      axisTick: { show: true, customValues: SPEED_TICKS, length: 6, lineStyle: { color: "#333", width: 1 } },
      axisLabel: { customValues: SPEED_TICKS, fontSize: st.tickFont, color: "#222", margin: 17, fontFamily: SANS },
    });
    yAxis.push({
      type: "value", gridIndex: i, min: Y_MIN, max: Y_MAX, position: "right",
      axisLine: { show: false }, splitLine: { show: false },
      axisTick: { show: true, customValues: MSG_TICKS, length: 6, lineStyle: { color: "#333", width: 1 } },
      axisLabel: {
        customValues: MSG_TICKS, fontSize: st.msgFont, color: "#222", margin: 18, fontFamily: SANS,
        formatter: (v: number) => MSG_LABELS[Math.round(v)] || "",
      },
    });
    const xi = i;
    const yi = 2 * i;
    const areas: any[] = [];
    sp.star.forEach(([s, e]) => areas.push([{ xAxis: s, yAxis: STAR_LEVEL, itemStyle: { color: st.band.star } }, { xAxis: e, yAxis: Y_MAX }]));
    sp.slow.forEach(([s, e]) => areas.push([{ xAxis: s, yAxis: sp.lower, itemStyle: { color: st.band.slow } }, { xAxis: e, yAxis: STAR_LEVEL }]));
    sp.stop.forEach(([s, e]) => areas.push([{ xAxis: s, yAxis: Y_MIN, itemStyle: { color: st.band.stop } }, { xAxis: e, yAxis: sp.lower }]));
    series.push({
      type: "scatter", xAxisIndex: xi, yAxisIndex: yi, data: [], z: 1, silent: true,
      markArea: { silent: true, label: { show: false }, itemStyle: { borderWidth: 0 }, data: areas },
    });
    series.push({
      type: "scatter", xAxisIndex: xi, yAxisIndex: yi, data: [], z: 2, silent: true,
      markLine: {
        silent: true, symbol: ["none", "none"], label: { show: false },
        lineStyle: { type: [6, 4], color: st.dash, width: 1 },
        data: [{ yAxis: sp.lower }, { yAxis: STAR_LEVEL }],
      },
    });
    if (i === 0) {
      series.push({
        type: "scatter", xAxisIndex: xi, yAxisIndex: yi, z: 3, silent: true,
        symbol: "circle", symbolSize: 9, itemStyle: { color: "rgba(0,45,0,0.55)" },
        data: rawPts(sp.black),
      });
      series.push({
        type: "line", xAxisIndex: xi, yAxisIndex: yi, z: 4, silent: true, showSymbol: false,
        lineStyle: { color: "rgba(110,110,110,0.8)", width: 2 },
        data: pts(sp.avgStart, AVG_STEP, sp.blackAvg),
      });
    } else {
      series.push({
        type: "line", xAxisIndex: xi, yAxisIndex: yi, z: 3, silent: true, showSymbol: false,
        lineStyle: { color: "rgba(25,25,25,0.75)", width: 1.1 },
        data: pts(sp.avgStart, AVG_STEP, sp.blackAvg),
      });
      series.push({
        type: "scatter", xAxisIndex: xi, yAxisIndex: yi, z: 4, silent: true,
        symbol: "diamond", symbolSize: 10,
        itemStyle: { color: "rgba(0,0,0,0.3)", borderColor: "rgba(0,0,0,0.55)", borderWidth: 1 },
        data: rawPts(sp.black),
      });
      series.push({
        type: "line", xAxisIndex: xi, yAxisIndex: yi, z: 5, silent: true, showSymbol: false,
        lineStyle: { color: "rgba(40,40,255,0.85)", width: 1.3 },
        data: pts(sp.avgStart, AVG_STEP, sp.blueAvg as number[]),
      });
      series.push({
        type: "scatter", xAxisIndex: xi, yAxisIndex: yi, z: 6, silent: true,
        symbol: "diamond", symbolSize: 10,
        itemStyle: { color: "rgba(20,20,255,0.38)", borderColor: "rgba(0,0,230,0.7)", borderWidth: 1 },
        data: rawPts(sp.blue),
      });
    }
    graphic.push({
      type: "rect", z: 100, silent: true,
      shape: { x: st.grid.left, y: st.grid.top, width: st.grid.width, height: st.grid.height },
      style: { fill: "transparent", stroke: "#333", lineWidth: 1.2 },
    });
    graphic.push(txt(st.title[0], st.title[1], TITLES[i], 20, { align: "center", weight: "bold", fill: "#111" }));
    graphic.push(txt(st.yTitle[0], st.yTitle[1], Y_TITLES[i], 16, { align: "center", rotation: Math.PI / 2 }));
    graphic.push(txt(st.xTitle[0], st.xTitle[1], X_TITLE, 16, { align: "center" }));
    graphic.push(txt(st.caption[0], st.caption[1], CAPTIONS[i], 29, { align: "center", family: SERIF, fill: "#000" }));
  });

  graphic.push(...legends());
  graphic.push({ type: "line", z: 90, silent: true, shape: { x1: 590, y1: 988, x2: 1179, y2: 988 }, style: { stroke: "#e4e4e4", lineWidth: 2 } });

  return {
    animation: false,
    backgroundColor: "#ffffff",
    textStyle: { fontFamily: SANS },
    grid, xAxis, yAxis, series, graphic,
  };
}

export default function App() {
  const ref = useRef<HTMLDivElement>(null);
  useEffect(() => {
    if (!ref.current) return;
    const chart = echarts.init(ref.current, undefined, { renderer: "svg" });
    chart.setOption(buildOption() as any);
    return () => chart.dispose();
  }, []);
  return (
    <div
      ref={ref}
      style={{ position: "absolute", left: 0, top: 0, width: 1179, height: 1041, background: "#fff" }}
    />
  );
}
